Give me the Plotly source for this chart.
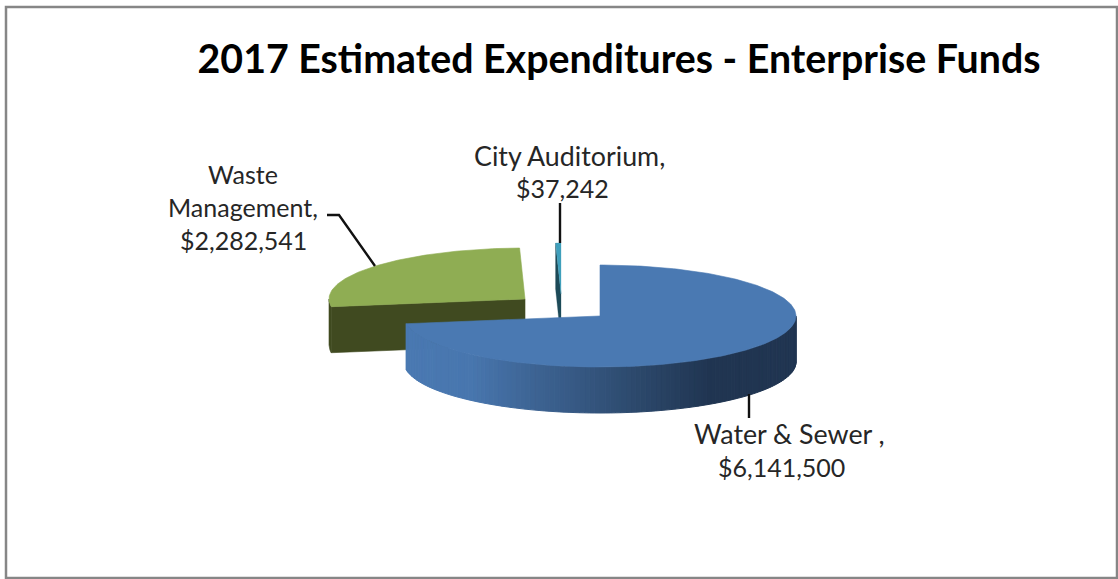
import math
import plotly.graph_objects as go

# Budget figures
categories = ["Water & Sewer ", "Waste Management", "City Auditorium"]
expenditures = [6141500, 2282541, 37242]
title_text = "2017 Estimated Expenditures - Enterprise Funds"

# Drawing geometry of the extruded pie, in canvas pixels
WIDTH, HEIGHT = 1118, 579
RX, RY, DEPTH = 196, 51, 46
APEX = {"blue": (600, 316), "green": (525, 299), "teal": (561, 294)}

TOP_BLUE = "#4a79b2"
TOP_GREEN = "#8fad53"
SIDE_GREEN = "#404a20"
TOP_TEAL = "#3f9fbc"
SIDE_TEAL = "#1d4a58"
TEXT = "#262626"
# Shading of the blue rim, left to right
RIM_STOPS = [(406, (74, 121, 178)), (470, (72, 118, 174)), (540, (60, 98, 145)),
             (620, (47, 77, 114)), (710, (32, 53, 81)), (796, (32, 53, 81))]

total = sum(expenditures)
spans = [v / total * 360 for v in expenditures]
blue_end = spans[0]
green_end = blue_end + spans[1]


def pt(apex, deg):
    a = math.radians(deg)
    return apex[0] + RX * math.sin(a), apex[1] - RY * math.cos(a)


def arc(apex, start, end, step=1.0):
    n = max(2, int(abs(end - start) / step) + 1)
    return [pt(apex, start + (end - start) * i / (n - 1)) for i in range(n)]


def rim_colour(x):
    for (x0, c0), (x1, c1) in zip(RIM_STOPS, RIM_STOPS[1:]):
        if x <= x1:
            t = max(0.0, (x - x0) / (x1 - x0))
            return "rgb(%d,%d,%d)" % tuple(round(a + (b - a) * t) for a, b in zip(c0, c1))
    return "rgb(%d,%d,%d)" % RIM_STOPS[-1][1]


fig = go.Figure()


def poly(points, colour, edge=0.6):
    xs, ys = zip(*points)
    fig.add_trace(go.Scatter(
        x=list(xs) + [xs[0]], y=list(ys) + [ys[0]], mode="lines", fill="toself",
        fillcolor=colour, line=dict(color=colour, width=edge), hoverinfo="skip",
    ))


def drop(points):
    return [(x, y + DEPTH) for x, y in points]


# Waste Management slice: cut face, then the top
g = APEX["green"]
g_outer = pt(g, blue_end)
poly([g_outer, g, (g[0], g[1] + DEPTH), (g_outer[0], g_outer[1] + DEPTH)], SIDE_GREEN)
rim = arc(g, blue_end, 270)
poly(rim + drop(rim)[::-1], SIDE_GREEN)
poly([g] + arc(g, blue_end, green_end), TOP_GREEN)

# City Auditorium sliver
t = APEX["teal"]
t_outer = pt(t, green_end)
poly([t_outer, t, (t[0], t[1] + DEPTH), (t_outer[0], t_outer[1] + DEPTH)], SIDE_TEAL, 0.3)
poly([t] + arc(t, green_end, 360, 0.3), TOP_TEAL, 0.3)

# Water & Sewer slice: shaded rim in narrow bands, then the top
b = APEX["blue"]
rim_step = 1.5
a = 90.0
while a < blue_end:
    a2 = min(a + rim_step, blue_end)
    band = arc(b, a, a2, 0.5)
    poly(band + drop(band)[::-1], rim_colour((band[0][0] + band[-1][0]) / 2), 1)
    a = a2
poly([b] + arc(b, 0, blue_end), TOP_BLUE)


def leader(xs, ys):
    fig.add_trace(go.Scatter(x=xs, y=ys, mode="lines", hoverinfo="skip",
                             line=dict(color="#111111", width=2.4)))


leader([327, 339, 375], [215, 215, 266])
leader([560, 560], [203, 243])
leader([749, 749], [394, 418])

money = [f"${v:,}" for v in expenditures]
# One entry per text line: x centre, y centre, text, font size
label_lines = [
    (789.5, 434, f"{categories[0]},", 26.8),
    (781, 467, money[0], 25),
    (243, 174, "Waste", 25),
    (243, 207, "Management,", 25),
    (243, 240, money[1], 25),
    (569.5, 156, f"{categories[2]},", 26.8),
    (562.5, 188, money[2], 25),
]
annotations = [
    dict(x=x, y=y, text=s, xref="x", yref="y", showarrow=False, align="center",
         xanchor="center", yanchor="middle", font=dict(family="Lato", size=size, color=TEXT))
    for x, y, s, size in label_lines
]

fig.update_layout(
    width=WIDTH, height=HEIGHT, margin=dict(l=0, r=0, t=0, b=0),
    paper_bgcolor="white", plot_bgcolor="white", showlegend=False,
    title=dict(text=title_text, x=619 / WIDTH, xanchor="center", xref="paper",
               y=1 - 59 / HEIGHT, yanchor="middle", yref="paper",
               font=dict(family="Lato", size=39.3, color="#000000", weight="bold")),
    xaxis=dict(range=[0, WIDTH], visible=False, fixedrange=True),
    yaxis=dict(range=[HEIGHT, 0], visible=False, fixedrange=True),
    annotations=annotations,
    shapes=[dict(type="rect", xref="x", yref="y", x0=6, y0=7, x1=1117, y1=578,
                 line=dict(color="#868686", width=2.5), layer="above")],
)

fig.write_html("out.html", config={"displayModeBar": False})
